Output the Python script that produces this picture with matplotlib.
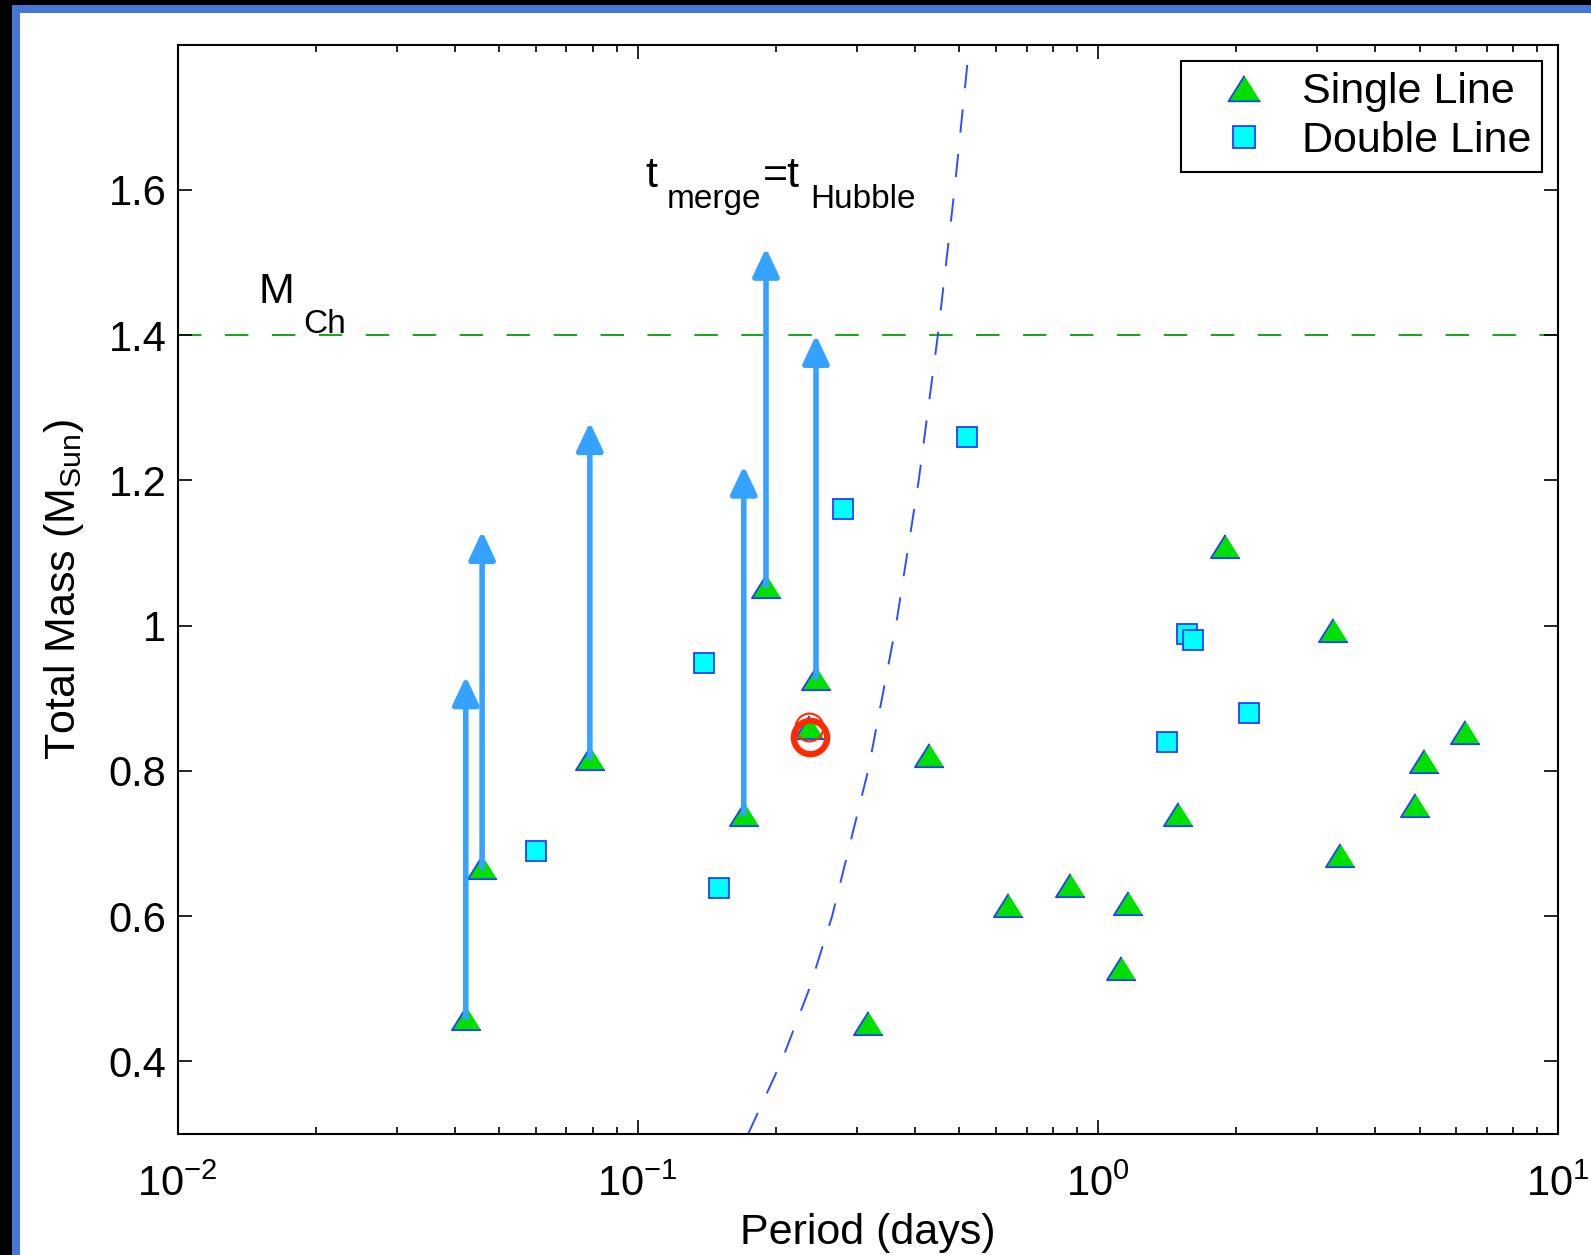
import numpy as np
import matplotlib
matplotlib.use('Agg')
import matplotlib.pyplot as plt
from matplotlib.patches import Rectangle

plt.rcParams['font.family'] = ['Liberation Sans', 'DejaVu Sans']
plt.rcParams['mathtext.fontset'] = 'custom'
plt.rcParams['mathtext.rm'] = 'Liberation Sans'
plt.rcParams['mathtext.it'] = 'Liberation Sans:italic'
plt.rcParams['mathtext.bf'] = 'Liberation Sans:bold'
plt.rcParams['mathtext.default'] = 'regular'

# single line systems (period in days, total mass in Msun)
single_period = [0.0423, 0.0459, 0.0787, 0.170, 0.190, 0.244, 0.236, 0.316, 0.429,
                 0.637, 0.869, 1.12, 1.16, 1.49, 1.89, 3.24, 3.36, 4.89, 5.12, 6.27]
single_mass = [0.46, 0.667, 0.818, 0.741, 1.055, 0.928, 0.86, 0.453, 0.822,
               0.616, 0.643, 0.528, 0.618, 0.741, 1.109, 0.994, 0.684, 0.753, 0.813, 0.853]

# double line systems
double_period = [0.0601, 0.1396, 0.150, 0.280, 0.520, 1.416, 1.559, 1.607, 2.125]
double_mass = [0.689, 0.949, 0.639, 1.16, 1.259, 0.84, 0.988, 0.98, 0.879]

# lower limits -> arrows
arrow_period = [0.0423, 0.0459, 0.0787, 0.170, 0.190, 0.244]
arrow_low = [0.46, 0.667, 0.818, 0.741, 1.055, 0.928]
arrow_high = [0.93, 1.13, 1.28, 1.22, 1.52, 1.40]

# highlighted system (red rings)
ring_period = [0.237, 0.236]
ring_mass = [0.847, 0.860]

# t_merge = t_Hubble curve
curve_mass = [0.3, 0.4, 0.5, 0.6, 0.8, 1.0, 1.2, 1.4, 1.6, 1.8]
curve_period = [0.1737, 0.2053, 0.236, 0.2645, 0.3166, 0.364, 0.408, 0.449, 0.488, 0.5256]

m_ch = 1.4

fig = plt.figure(figsize=(15.91, 12.55), dpi=100)
fig.patch.set_facecolor('white')

# slide frame (top / left)
fig.patches.append(Rectangle((0, 1 - 13 / 1255), 1, 13 / 1255, transform=fig.transFigure,
                             facecolor='#4677d6', edgecolor='none', zorder=0))
fig.patches.append(Rectangle((0, 1 - 5 / 1255), 1, 5 / 1255, transform=fig.transFigure,
                             facecolor='black', edgecolor='none', zorder=1))
fig.patches.append(Rectangle((0, 0), 20 / 1591, 1, transform=fig.transFigure,
                             facecolor='#4677d6', edgecolor='none', zorder=0))
fig.patches.append(Rectangle((0, 0), 12 / 1591, 1, transform=fig.transFigure,
                             facecolor='black', edgecolor='none', zorder=1))

ax = fig.add_axes([0.1116, 0.0964, 0.8677, 0.8681])
ax.set_xscale('log')
ax.set_xlim(0.01, 10)
ax.set_ylim(0.3, 1.8)

tri = [(0, 0.8), (-1, -0.8), (1, -0.8)]

ax.axhline(m_ch, color='#00a000', lw=1.3, ls=(0, (13, 13)), zorder=1)
ax.plot(curve_period, curve_mass, color='#2f4dff', lw=1.4, ls=(0, (12, 11)), zorder=1)

ax.plot(single_period, single_mass, ls='none', marker=tri, ms=21, mfc='#00e000',
        mec='#2040ff', mew=1.3, label='Single Line', zorder=3)
ax.plot(double_period, double_mass, ls='none', marker='s', ms=14, mfc='#00ffff',
        mec='#2040ff', mew=1.3, label='Double Line', zorder=3)

for p, lo, hi in zip(arrow_period, arrow_low, arrow_high):
    ax.annotate('', xy=(p, hi), xytext=(p, lo),
                arrowprops=dict(arrowstyle='-|>,head_length=17,head_width=8',
                                mutation_scale=1, color='#35a2ff', lw=4,
                                shrinkA=0, shrinkB=0), zorder=4)

ax.plot(ring_period[1], ring_mass[1], ls='none', marker='o', ms=20, mfc='none',
        mec='#ff2a00', mew=1.5, zorder=5)
ax.plot(ring_period[0], ring_mass[0], ls='none', marker='o', ms=24, mfc='none',
        mec='#ff2a00', mew=4.5, zorder=5)

# annotations
ax.text(0.01496, 1.444, 'M', fontsize=31)
ax.text(0.01873, 1.403, 'Ch', fontsize=24)
ax.text(0.1038, 1.604, 't', fontsize=31)
ax.text(0.1159, 1.575, 'merge', fontsize=24)
ax.text(0.1874, 1.604, '=t', fontsize=31)
ax.text(0.2370, 1.575, 'Hubble', fontsize=24)

ax.set_yticks([0.4, 0.6, 0.8, 1.0, 1.2, 1.4, 1.6])
ax.set_yticklabels(['0.4', '0.6', '0.8', '1', '1.2', '1.4', '1.6'])
ax.tick_params(which='both', direction='in', top=True, right=True, labelsize=30, width=1.2)
ax.tick_params(which='major', length=10)
ax.tick_params(axis='x', which='major', pad=22)
ax.tick_params(axis='y', which='major', pad=8)
ax.tick_params(which='minor', length=5)
for s in ax.spines.values():
    s.set_linewidth(1.5)

ax.set_xlabel('Period (days)', fontsize=31, labelpad=6)
ax.set_ylabel(r'Total Mass (M$_{\mathrm{Sun}}$)', fontsize=31, labelpad=16)

leg = ax.legend(loc='upper right', bbox_to_anchor=(0.9884, 0.985), borderaxespad=0,
                fontsize=31, frameon=True, fancybox=False, framealpha=1,
                handlelength=2.4, handletextpad=0.15, borderpad=0.25, labelspacing=0.22,
                edgecolor='black', markerscale=1.1)
leg.get_frame().set_linewidth(1.5)

plt.savefig('out.png', dpi=100)
